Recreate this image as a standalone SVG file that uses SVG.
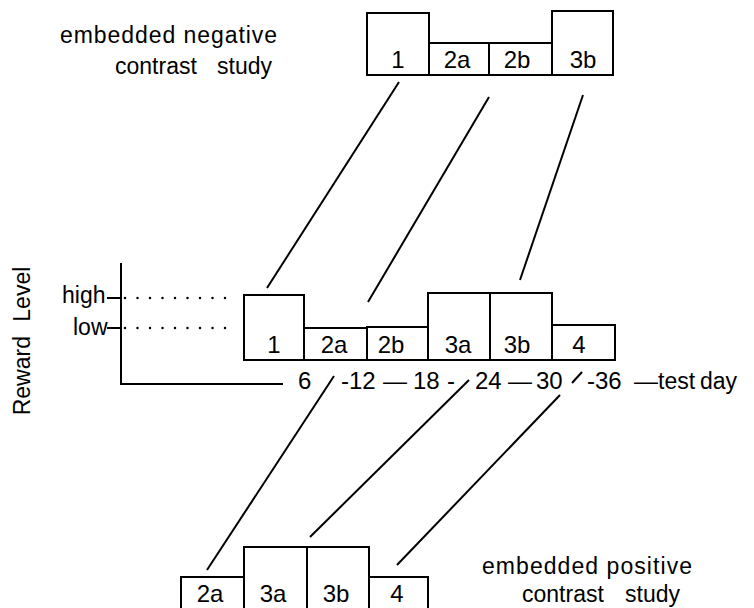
<svg xmlns="http://www.w3.org/2000/svg" width="754" height="608" viewBox="0 0 754 608">
<style>
.t{font-family:"Liberation Sans",Arial,sans-serif;font-size:23px;fill:#000}
.n{font-family:"Liberation Sans",Arial,sans-serif;font-size:24px;fill:#000;text-anchor:middle}
.b{fill:#fff;stroke:#000;stroke-width:2}
.l{stroke:#000;stroke-width:2;fill:none}
.d{stroke:#000;stroke-width:2.5;stroke-linecap:round;stroke-dasharray:0 12.5;fill:none}
</style>
<rect width="754" height="608" fill="#fff"/>
<g id="labels">
<text class="t" x="60" y="43" textLength="217" lengthAdjust="spacing">embedded negative</text>
<text class="t" x="115" y="74">contrast <tspan x="217">study</tspan></text>
<text class="t" x="482" y="574" textLength="210" lengthAdjust="spacing">embedded positive</text>
<text class="t" x="522" y="602">contrast <tspan x="625">study</tspan></text>
<text class="t" transform="translate(30,341) rotate(-90)" text-anchor="middle">Reward <tspan dx="8">Level</tspan></text>
</g>
<g id="connectors">
<line class="l" x1="399" y1="82" x2="267" y2="288"/>
<line class="l" x1="489" y1="97" x2="368" y2="302"/>
<line class="l" x1="583" y1="95" x2="520" y2="280"/>
<line class="l" x1="207" y1="570" x2="334" y2="376"/>
<line class="l" x1="310" y1="537" x2="469" y2="380"/>
<line class="l" x1="397" y1="565" x2="560" y2="395"/>
<line class="l" x1="572" y1="383" x2="582" y2="372"/>
</g>
<g id="axis">
<line class="l" x1="121" y1="263" x2="121" y2="385"/>
<line class="l" x1="120" y1="384" x2="283" y2="384"/>
<line class="l" x1="107" y1="298" x2="121" y2="298"/>
<line class="l" x1="107" y1="328" x2="121" y2="328"/>
<line class="d" x1="125" y1="298" x2="226" y2="298"/>
<line class="d" x1="125" y1="328" x2="226" y2="328"/>
<text class="t" x="62" y="303">high</text>
<text class="t" x="73" y="335">low</text>
<text class="t" y="389" style="font-size:24px"><tspan x="298">6</tspan> <tspan x="341">-12</tspan> <tspan x="383">—</tspan><tspan x="413">18</tspan> <tspan x="447">-</tspan> <tspan x="475">24</tspan> <tspan x="508">—</tspan><tspan x="536">30</tspan> <tspan x="587">-36</tspan> <tspan x="634">—</tspan><tspan x="658" style="font-size:23px">test</tspan> <tspan x="700" style="font-size:23px">day</tspan></text>
</g>
<g id="negative-study">
<rect class="b" x="367" y="13" width="62" height="62"/>
<rect class="b" x="429" y="43" width="60" height="32"/>
<rect class="b" x="489" y="43" width="63" height="32"/>
<rect class="b" x="552" y="11" width="61" height="64"/>
<text class="n" x="398" y="68">1</text>
<text class="n" x="457" y="68">2a</text>
<text class="n" x="517" y="68">2b</text>
<text class="n" x="583" y="68">3b</text>
</g>
<g id="main-sequence">
<rect class="b" x="244" y="295" width="60" height="65"/>
<rect class="b" x="304" y="328" width="63" height="32"/>
<rect class="b" x="367" y="327" width="61" height="33"/>
<rect class="b" x="428" y="293" width="62" height="67"/>
<rect class="b" x="490" y="293" width="62" height="67"/>
<rect class="b" x="552" y="325" width="63" height="35"/>
<text class="n" x="274" y="353">1</text>
<text class="n" x="334" y="353">2a</text>
<text class="n" x="391" y="353">2b</text>
<text class="n" x="458" y="353">3a</text>
<text class="n" x="517" y="353">3b</text>
<text class="n" x="579" y="353">4</text>
</g>
<g id="positive-study">
<rect class="b" x="181" y="577" width="63" height="40"/>
<rect class="b" x="244" y="547" width="63" height="70"/>
<rect class="b" x="307" y="547" width="62" height="70"/>
<rect class="b" x="369" y="577" width="59" height="40"/>
<text class="n" x="210" y="602">2a</text>
<text class="n" x="273" y="602">3a</text>
<text class="n" x="336" y="602">3b</text>
<text class="n" x="397" y="602">4</text>
</g>
</svg>
